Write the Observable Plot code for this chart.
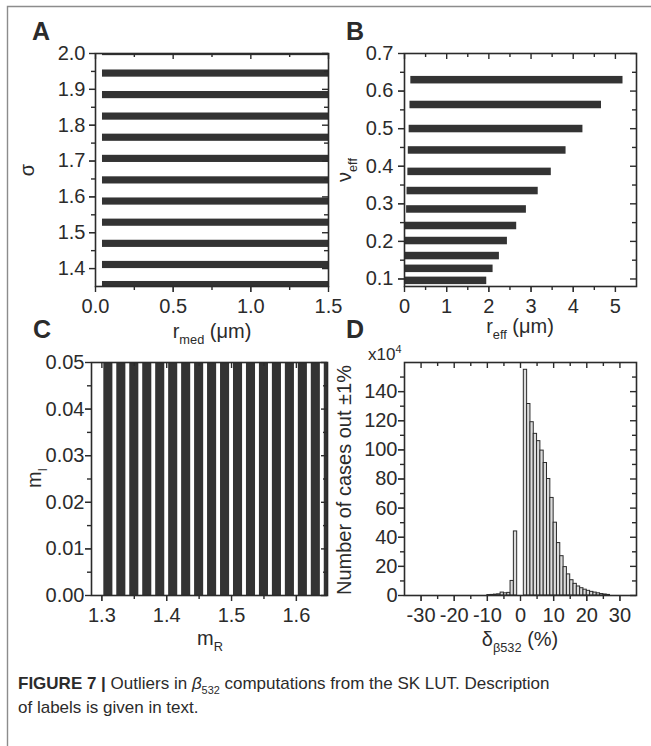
<!DOCTYPE html>
<html>
<head>
<meta charset="utf-8">
<script src="https://cdn.jsdelivr.net/npm/d3@7"></script>
<script src="https://cdn.jsdelivr.net/npm/@observablehq/plot@0.6"></script>
<style>
  body { margin: 0; background: #fff; }
  #fig { position: relative; width: 651px; height: 746px; overflow: hidden; background: #fff; }
  #fig > svg { position: absolute; }
</style>
</head>
<body>
<div id="fig"></div>
<script>
// ---------- Panel A: sigma rows flagged as outliers, with their r_med extent ----------
const sigmaRows = [2.004, 1.944, 1.884, 1.824, 1.765, 1.706, 1.646, 1.587, 1.528, 1.469, 1.41, 1.354];
const rMedFrom  = [0.045, 0.045, 0.045, 0.045, 0.045, 0.045, 0.045, 0.045, 0.045, 0.045, 0.045, 0.045];
const rMedTo    = [1.5, 1.5, 1.5, 1.5, 1.5, 1.5, 1.5, 1.5, 1.5, 1.5, 1.5, 1.5];

// ---------- Panel B: nu_eff rows with their r_eff extent ----------
const nuEffRows = [0.629, 0.563, 0.499, 0.442, 0.385, 0.334, 0.285, 0.241, 0.201, 0.161, 0.127, 0.095];
const rEffFrom  = [0.15, 0.13, 0.11, 0.09, 0.08, 0.06, 0.05, 0.02, 0.02, 0.01, 0.01, 0.01];
const rEffTo    = [5.18, 4.67, 4.23, 3.83, 3.48, 3.17, 2.89, 2.66, 2.44, 2.25, 2.10, 1.95];

// ---------- Panel C: real refractive index columns covering the full m_I range ----------
const mRCols = [1.31, 1.33, 1.35, 1.37, 1.39, 1.41, 1.43, 1.45, 1.47, 1.49, 1.51, 1.53, 1.55, 1.57, 1.59, 1.61, 1.63, 1.65];
const mIFrom = 0;
const mITo = 0.05;

// ---------- Panel D: histogram of delta beta532 (%), counts in units of 1e4 ----------
const binLeft  = [-10, -9, -8, -7, -6, -5, -4, -3, -2,
                  1, 2, 3, 4, 5, 6, 7, 8, 9, 10, 11, 12, 13, 14, 15, 16, 17, 18, 19, 20, 21, 22, 23, 24, 25, 26];
const binCount = [0.3, 0.4, 0.6, 0.8, 2.0, 1.5, 1.8, 10, 44,
                  155, 131.5, 119, 111, 106, 99.5, 91, 80, 67, 50, 36, 27, 19.5, 14.5, 10.5, 8, 6.2, 5, 4, 3.2, 2.5, 2, 1.5, 1, 0.7, 0.4];
const binWidth = 1;

// ---------- Axis ticks ----------
const aXMajor = [0, 0.5, 1.0, 1.5],           aXMinor = [0.25, 0.75, 1.25];
const aYMajor = [1.4, 1.5, 1.6, 1.7, 1.8, 1.9, 2.0], aYMinor = [1.45, 1.55, 1.65, 1.75, 1.85, 1.95];
const bXMajor = [0, 1, 2, 3, 4, 5],           bXMinor = [0.5, 1.5, 2.5, 3.5, 4.5];
const bYMajor = [0.1, 0.2, 0.3, 0.4, 0.5, 0.6, 0.7], bYMinor = [0.15, 0.25, 0.35, 0.45, 0.55, 0.65];
const cXMajor = [1.3, 1.4, 1.5, 1.6],         cXMinor = [1.35, 1.45, 1.55];
const cYMajor = [0, 0.01, 0.02, 0.03, 0.04, 0.05], cYMinor = [0.005, 0.015, 0.025, 0.035, 0.045];
const dXMajor = [-30, -20, -10, 0, 10, 20, 30], dXMinor = [-25, -15, -5, 5, 15, 25];
const dYMajor = [0, 20, 40, 60, 80, 100, 120, 140], dYMinor = [10, 30, 50, 70, 90, 110, 130, 150];

const ink = "#2b2b2b";
const barFill = "#333333";
const font = "'Liberation Sans', Arial, sans-serif";
const fig = document.getElementById("fig");

// Origin-style box: minor ticks outward left/bottom, mirrored inward ticks top/right
function boxTicks(xMaj, xMin, yMaj, yMin, fw, fh) {
  const st = {stroke: ink, strokeWidth: 1.4};
  return [
    Plot.ruleX(xMaj, {...st, insetTop: fh, insetBottom: -6}),
    Plot.ruleX(xMin, {...st, insetTop: fh, insetBottom: -4}),
    Plot.ruleX(xMaj, {...st, insetBottom: fh - 6}),
    Plot.ruleX(xMin, {...st, insetBottom: fh - 4}),
    Plot.ruleY(yMaj, {...st, insetLeft: -6, insetRight: fw}),
    Plot.ruleY(yMin, {...st, insetLeft: -4, insetRight: fw}),
    Plot.ruleY(yMaj, {...st, insetLeft: fw - 6}),
    Plot.ruleY(yMin, {...st, insetLeft: fw - 4}),
    Plot.frame({stroke: ink, strokeWidth: 1.6})
  ];
}

function panel({left, top, width, height, margin, x, y, ticks, marks, yPad}) {
  const [mt, mr, mb, ml] = margin;
  const fw = width - ml - mr, fh = height - mt - mb;
  const svg = Plot.plot({
    width, height,
    marginTop: mt, marginRight: mr, marginBottom: mb, marginLeft: ml,
    x: {...x, ticks: ticks[0], tickSize: 6, tickPadding: 6, label: null},
    y: {...y, ticks: ticks[2], tickSize: 6, tickPadding: yPad, label: null},
    style: {background: "transparent", overflow: "visible", fontFamily: font, fontSize: "20px", color: ink},
    marks: [...marks, ...boxTicks(ticks[0], ticks[1], ticks[2], ticks[3], fw, fh)]
  });
  svg.style.left = left + "px";
  svg.style.top = top + "px";
  fig.appendChild(svg);
}

const f1 = d3.format(".1f"), f2 = d3.format(".2f");
const plain = d => String(d);

// A
panel({
  left: 0, top: 0, width: 340, height: 345, margin: [53, 12, 59, 95], yPad: 4,
  x: {domain: [0, 1.5], tickFormat: f1},
  y: {domain: [1.35, 2.0], tickFormat: f1},
  ticks: [aXMajor, aXMinor, aYMajor, aYMinor],
  marks: [
    Plot.rect(sigmaRows.map((v, i) => ({v, lo: rMedFrom[i], hi: rMedTo[i]})),
      {x1: "lo", x2: "hi", y1: d => d.v - 0.01, y2: d => d.v + 0.01, fill: barFill, clip: true})
  ]
});

// B
panel({
  left: 330, top: 0, width: 321, height: 345, margin: [53, 15, 59, 74], yPad: 5,
  x: {domain: [0, 5.5], tickFormat: plain},
  y: {domain: [0.08, 0.7], tickFormat: f1},
  ticks: [bXMajor, bXMinor, bYMajor, bYMinor],
  marks: [
    Plot.rect(nuEffRows.map((v, i) => ({v, lo: rEffFrom[i], hi: rEffTo[i]})),
      {x1: "lo", x2: "hi", y1: d => d.v - 0.01, y2: d => d.v + 0.01, fill: barFill, clip: true})
  ]
});

// C
panel({
  left: 0, top: 345, width: 340, height: 301, margin: [17, 13, 51, 91], yPad: 1,
  x: {domain: [1.284, 1.648], tickFormat: f1},
  y: {domain: [0, 0.05], tickFormat: f2},
  ticks: [cXMajor, cXMinor, cYMajor, cYMinor],
  marks: [
    Plot.rect(mRCols, {x1: d => d - 0.007, x2: d => d + 0.007, y1: mIFrom, y2: mITo, fill: barFill, clip: true})
  ]
});

// D
panel({
  left: 330, top: 345, width: 321, height: 301, margin: [17, 15, 51, 74], yPad: 1,
  x: {domain: [-35, 35], tickFormat: plain},
  y: {domain: [0, 160], tickFormat: plain},
  ticks: [dXMajor, dXMinor, dYMajor, dYMinor],
  marks: [
    Plot.rectY(binLeft.map((x0, i) => ({x0, n: binCount[i]})),
      {x1: "x0", x2: d => d.x0 + binWidth, y: "n", fill: "#dcdcdc", stroke: ink, strokeWidth: 1})
  ]
});

// ---------- Overlay: page rule, panel letters, axis titles, caption ----------
const ov = d3.select(fig).append("svg")
  .attr("width", 651).attr("height", 746)
  .style("left", "0px").style("top", "0px").style("background", "none")
  .attr("font-family", font);

ov.append("path").attr("d", "M7.5,746 V6.5 H651").attr("fill", "none")
  .attr("stroke", "#8c8c8c").attr("stroke-width", 1.4);

function label(x, y, parts, {anchor = "start", rotate = 0, size = 20, weight = "normal", family = font} = {}) {
  const t = ov.append("text")
    .attr("transform", `translate(${x},${y}) rotate(${rotate})`)
    .attr("text-anchor", anchor).attr("font-size", size).attr("font-weight", weight)
    .attr("font-family", family).attr("fill", ink);
  let shift = 0;
  for (const p of parts) {
    const [str, kind] = typeof p === "string" ? [p, ""] : p;
    const flags = kind.split(" ");
    const ts = t.append("tspan").text(str);
    let target = 0;
    if (flags.includes("sub")) { ts.attr("font-size", size * 0.64); target = size * 0.32; }
    if (flags.includes("sup")) { ts.attr("font-size", size * 0.64); target = -size * 0.42; }
    if (flags.includes("it")) ts.attr("font-style", "italic");
    if (flags.includes("bold")) ts.attr("font-weight", "bold");
    if (target - shift !== 0) ts.attr("dy", target - shift);
    shift = target;
  }
  return t;
}

// panel letters
label(32, 40, ["A"], {size: 25, weight: "bold"});
label(346, 40, ["B"], {size: 25, weight: "bold"});
label(33, 338, ["C"], {size: 25, weight: "bold"});
label(346, 338, ["D"], {size: 25, weight: "bold"});

// axis titles
label(33.5, 170, ["σ"], {anchor: "middle", rotate: -90});
label(212, 338, ["r", ["med", "sub"], " (μm)"], {anchor: "middle"});
label(351, 170, ["ν", ["eff", "sub"]], {anchor: "middle", rotate: -90});
label(520, 333, ["r", ["eff", "sub"], " (μm)"], {anchor: "middle"});
label(40.5, 478, ["m", ["I", "sub"]], {anchor: "middle", rotate: -90});
label(351, 480, ["Number of cases out ±1%"], {anchor: "middle", rotate: -90});
label(210, 645, ["m", ["R", "sub"]], {anchor: "middle"});
label(520, 646, ["δ", ["β532", "sub"], " (%)"], {anchor: "middle"});
label(368, 360, ["x10", ["4", "sup"]], {size: 17});

// caption
const capFont = "'Liberation Sans Narrow', 'Liberation Sans', Arial, sans-serif";
label(18, 689, [["FIGURE 7 |", "bold"], " Outliers in ", ["β", "it"], ["532", "sub"],
  " computations from the SK LUT. Description"], {size: 17, family: capFont});
label(18, 713, ["of labels is given in text."], {size: 17, family: capFont});
</script>
</body>
</html>
